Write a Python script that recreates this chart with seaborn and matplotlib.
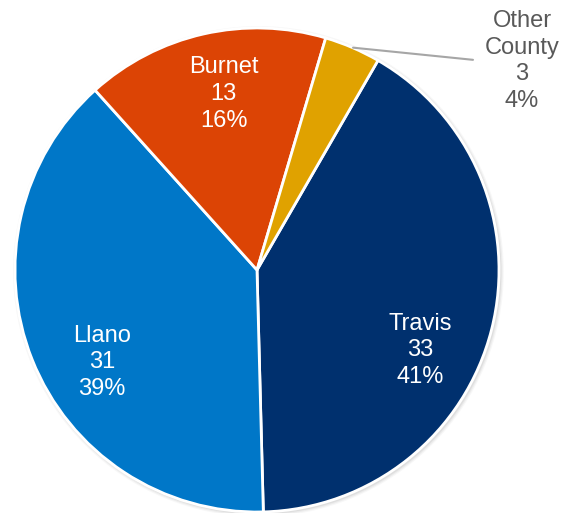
import matplotlib
matplotlib.use("Agg")
import matplotlib.pyplot as plt
import seaborn as sns
import numpy as np
from matplotlib.patches import Circle

sns.set_theme(style="white")
plt.rcParams['font.family'] = ['Liberation Sans', 'DejaVu Sans']

counties = ["Travis", "Llano", "Burnet", "Other\nCounty"]
counts = [33, 31, 13, 3]
percents = ["41%", "39%", "16%", "4%"]
colors = ["#00306E", "#0077C8", "#DC4405", "#E0A200"]

W, H = 575, 513
cx, cy, R = 257, 270, 242
fig = plt.figure(figsize=(W / 100, H / 100), dpi=100)
ax = fig.add_axes([0, 0, 1, 1])

# soft shadow ring
for i, a in enumerate([0.06, 0.09, 0.12]):
    ax.add_patch(Circle((0.006, -0.006), 1.0 + 0.014 - i * 0.005, color="#808080", alpha=a, lw=0, zorder=0))

wedges, _ = ax.pie(counts, colors=colors, startangle=60, counterclock=False,
                   wedgeprops=dict(edgecolor="white", linewidth=2), radius=1.0)
for w in wedges:
    w.set_zorder(2)

# label placement (radius, angle offset in degrees) relative to wedge middle
place = [(0.75, -12), (0.745, 9), (0.74, -2)]
for i in range(3):
    w = wedges[i]
    mid = np.deg2rad((w.theta1 + w.theta2) / 2 + place[i][1])
    r = place[i][0]
    ax.text(r * np.cos(mid), r * np.sin(mid),
            f"{counties[i]}\n{counts[i]}\n{percents[i]}",
            ha="center", va="center", color="white", fontsize=17, linespacing=1.27, zorder=3)

# outside label for Other County
w = wedges[3]
mid = np.deg2rad((w.theta1 + w.theta2) / 2)
tx, ty = (522 - cx) / R, -(61 - cy) / R
ax.annotate(f"{counties[3]}\n{counts[3]}\n{percents[3]}",
            xy=(0.98 * np.cos(mid) + 0.01, 1.0 * np.sin(mid)), xytext=(tx, ty),
            ha="center", va="center", color="#595959", fontsize=17, linespacing=1.27,
            arrowprops=dict(arrowstyle="-", color="#A6A6A6", lw=1.5,
                            relpos=(0.0, 0.5), shrinkA=6, shrinkB=0), zorder=3)

ax.set_xlim(-cx / R, (W - cx) / R)
ax.set_ylim(-(H - cy) / R, cy / R)
ax.set_aspect("auto")
ax.axis("off")
fig.savefig("out.png", dpi=100)
